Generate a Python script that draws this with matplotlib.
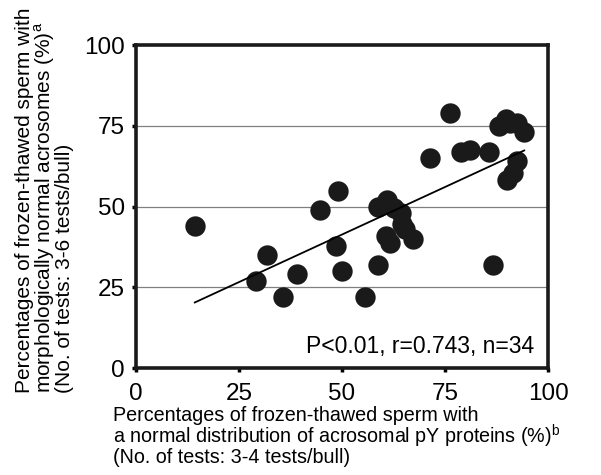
import numpy as np
import matplotlib
matplotlib.use("Agg")
import matplotlib.pyplot as plt

plt.rcParams['font.family'] = ['Liberation Sans', 'DejaVu Sans']
plt.rcParams['mathtext.fontset'] = 'custom'
plt.rcParams['mathtext.rm'] = 'Liberation Sans'

# pY normal distribution (%) vs morphologically normal acrosomes (%)
pY_normal = [14.3, 31.9, 29.2, 35.7, 39.1, 44.6, 49.1, 48.5, 50.1, 55.7,
             58.8, 58.8, 61.0, 60.7, 61.7, 64.4, 65.2, 67.2, 71.3, 76.2,
             78.8, 81.0, 85.7, 86.7, 88.1, 89.8, 92.4, 94.2, 92.4, 90.1,
             62.5, 64.5, 90.8, 91.5]
acrosome_normal = [44.0, 34.9, 27.0, 22.0, 29.0, 49.0, 54.9, 37.9, 30.0, 22.0,
                   31.9, 50.0, 51.9, 41.0, 38.8, 48.1, 43.0, 39.9, 64.9, 79.0,
                   66.9, 67.4, 66.9, 31.9, 75.1, 77.1, 75.9, 73.0, 64.0, 58.1,
                   49.5, 44.5, 76.0, 60.5]

fit_slope = 0.589
fit_intercept = 11.9
fit_range = [14.3, 94.2]

ticks = [0, 25, 50, 75, 100]

fig = plt.figure(figsize=(6.01, 4.75), dpi=100)
ax = fig.add_axes([0.226, 0.225, 0.686, 0.68])

for g in [25, 50, 75]:
    ax.axhline(g, color='#808080', lw=0.9, zorder=0)

ax.scatter(pY_normal, acrosome_normal, s=215, color='#1a1a1a', zorder=3, linewidths=0)
xf = np.array(fit_range)
ax.plot(xf, fit_slope * xf + fit_intercept, color='black', lw=1.3, zorder=4)

ax.set_xlim(0, 100)
ax.set_ylim(0, 100)
ax.set_xticks(ticks)
ax.set_yticks(ticks)
ax.tick_params(axis='both', direction='out', length=3, width=2.5, labelsize=17.5, pad=5)
ax.tick_params(axis='x', pad=8)
for sp in ax.spines.values():
    sp.set_linewidth(2.6)
    sp.set_color('#1a1a1a')

ax.text(0.965, 0.03, 'P<0.01, r=0.743, n=34', transform=ax.transAxes,
        ha='right', va='bottom', fontsize=16.5)

fig.text(0.025, 0.172,
         'Percentages of frozen-thawed sperm with\n'
         'morphologically normal acrosomes (%)$^{\\mathrm{a}}$\n'
         '(No. of tests: 3-6 tests/bull)',
         rotation=90, ha='left', va='bottom', fontsize=15, linespacing=0.9)

fig.text(0.188, 0.145,
         'Percentages of frozen-thawed sperm with\n'
         'a normal distribution of acrosomal pY proteins (%)$^{\\mathrm{b}}$\n'
         '(No. of tests: 3-4 tests/bull)',
         ha='left', va='top', fontsize=14.2, linespacing=0.88)

fig.savefig('out.png', dpi=100)
